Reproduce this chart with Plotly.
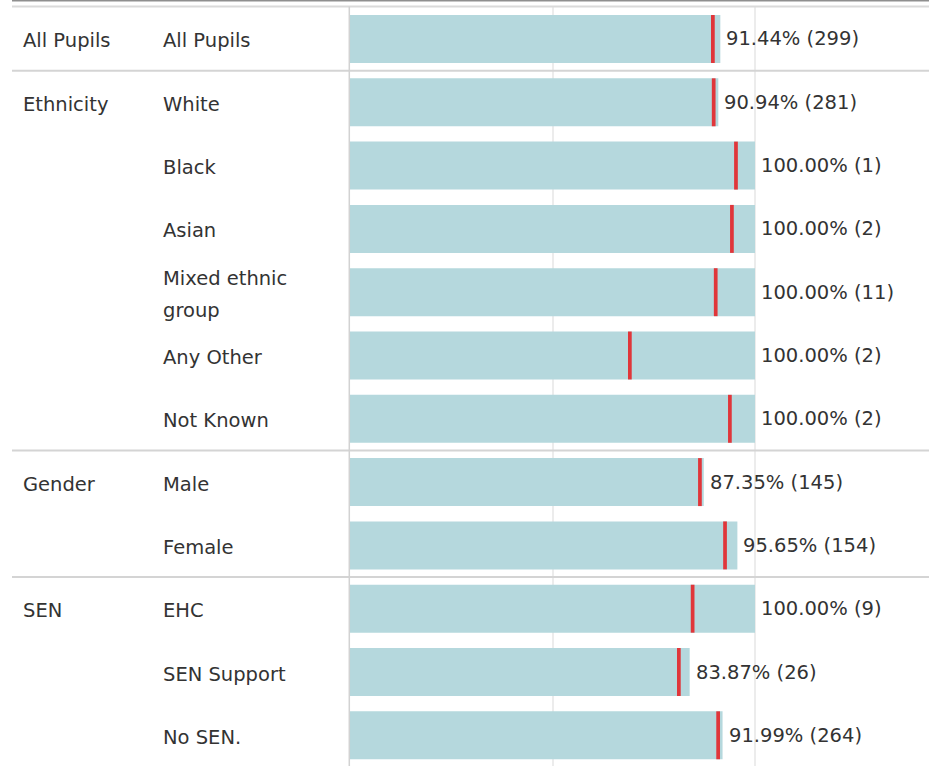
import plotly.graph_objects as go

# ---- data ----
groups = ["All Pupils", "Ethnicity", "", "", "", "", "", "Gender", "", "SEN", "", ""]
subgroups = ["All Pupils", "White", "Black", "Asian", "Mixed ethnic\ngroup", "Any Other",
             "Not Known", "Male", "Female", "EHC", "SEN Support", "No SEN."]
pct = [91.44, 90.94, 100.00, 100.00, 100.00, 100.00, 100.00, 87.35, 95.65, 100.00, 83.87, 91.99]
counts = [299, 281, 1, 2, 11, 2, 2, 145, 154, 9, 26, 264]
ref = [89.6, 89.8, 95.3, 94.3, 90.3, 69.1, 93.8, 86.4, 92.6, 84.6, 81.2, 90.9]
group_breaks = [0.5, 6.5, 8.5]

W, H = 929, 766
FONT = "DejaVu Sans"
FS = 19.5
TXT = "#333333"
rows = list(range(len(subgroups)))

# geometry (pixels)
x0_px, x100_px = 350.0, 755.0
unit = (x100_px - x0_px) / 100.0
xmax = (W - x0_px) / unit
row0_c, pitch = 39.0, 63.3
top_px = 7.0
y_top = (top_px - row0_c) / pitch
y_bot = (H - row0_c) / pitch

fig = go.Figure()
fig.add_trace(go.Bar(
    x=pct, y=rows, orientation="h", width=0.758,
    marker=dict(color="#b5d8dd", line=dict(width=0)), hoverinfo="skip"))
fig.add_trace(go.Bar(
    x=[0.92] * len(ref), base=[r - 0.46 for r in ref], y=rows, orientation="h", width=0.758,
    marker=dict(color="#e0363a", line=dict(width=0)), hoverinfo="skip"))

ann = []
for i, (p, c) in enumerate(zip(pct, counts)):
    ann.append(dict(x=p, y=i, xref="x", yref="y", text=f"{p:.2f}% ({c})",
                    xanchor="left", yanchor="middle", xshift=4, showarrow=False,
                    font=dict(family=FONT, size=FS, color=TXT)))
for i, g in enumerate(groups):
    if g:
        ann.append(dict(x=21 / W, y=i, xref="paper", yref="y", text=g,
                        xanchor="left", yanchor="middle", showarrow=False, yshift=-2,
                        font=dict(family=FONT, size=FS, color=TXT)))
for i, s in enumerate(subgroups):
    lines = s.split("\n")
    n = len(lines)
    for k, ln in enumerate(lines):
        ann.append(dict(x=161 / W, y=i, xref="paper", yref="y", text=ln,
                        xanchor="left", yanchor="middle", showarrow=False,
                        yshift=(-(k - (n - 1) / 2) * 32) - 2,
                        font=dict(family=FONT, size=FS, color=TXT)))

shapes = []
# top lines
shapes.append(dict(type="line", xref="paper", yref="paper", x0=12 / W, x1=1,
                   y0=1 - 0.7 / H, y1=1 - 0.7 / H, line=dict(color="#8f8f8f", width=1.5)))
shapes.append(dict(type="line", xref="paper", yref="paper", x0=12 / W, x1=1,
                   y0=1 - 6.5 / H, y1=1 - 6.5 / H, line=dict(color="#dadada", width=2)))
# group separators
for b in group_breaks:
    shapes.append(dict(type="line", xref="paper", yref="y", x0=12 / W, x1=1,
                       y0=b, y1=b, line=dict(color="#d4d4d4", width=2), layer="above"))
# vertical separator
shapes.append(dict(type="line", xref="paper", yref="paper", x0=349.3 / W, x1=349.3 / W,
                   y0=0, y1=1 - 6.5 / H, line=dict(color="#d2d2d2", width=1.5)))

fig.update_layout(
    width=W, height=H, margin=dict(l=0, r=0, t=0, b=0),
    paper_bgcolor="white", plot_bgcolor="white",
    barmode="overlay", showlegend=False,
    xaxis=dict(domain=[x0_px / W, 1], range=[0, xmax], tickvals=[50, 100],
               showgrid=True, gridcolor="#ececec", gridwidth=1.5,
               showticklabels=False, zeroline=False, fixedrange=True),
    yaxis=dict(domain=[0, 1 - top_px / H], range=[y_bot, y_top], showgrid=False,
               showticklabels=False, zeroline=False, fixedrange=True),
    annotations=ann, shapes=shapes,
)

fig.write_html("out.html", config={"displayModeBar": False},
               post_script="document.body.style.margin='0';document.body.style.overflow='hidden';")
